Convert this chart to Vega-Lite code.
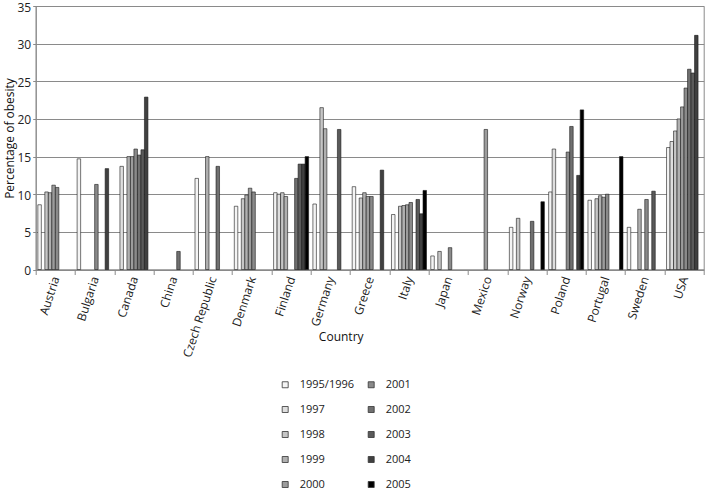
{
  "$schema": "https://vega.github.io/schema/vega-lite/v6.json",
  "width": 668,
  "height": 263.5,
  "autosize": {"type": "none"},
  "padding": {"left": 35.7, "top": 6, "right": 2.3, "bottom": 221.5},
  "config": {
    "font": "Open Sans",
    "view": {"stroke": "#8a8a8a", "strokeWidth": 1},
    "axis": {"labelFont": "Open Sans", "titleFont": "Open Sans", "labelColor": "#222", "titleColor": "#111", "titleFontWeight": "normal", "domainColor": "#8a8a8a", "tickColor": "#8a8a8a"}
  },
  "data": {
    "values": [
      {"country": "Austria", "year": "1995/1996", "value": 8.6},
      {"country": "Austria", "year": "1998", "value": 10.3},
      {"country": "Austria", "year": "1999", "value": 10.2},
      {"country": "Austria", "year": "2000", "value": 11.2},
      {"country": "Austria", "year": "2001", "value": 10.9},
      {"country": "Bulgaria", "year": "1995/1996", "value": 14.7},
      {"country": "Bulgaria", "year": "2001", "value": 11.3},
      {"country": "Bulgaria", "year": "2004", "value": 13.4},
      {"country": "Canada", "year": "1997", "value": 13.7},
      {"country": "Canada", "year": "1999", "value": 15.0},
      {"country": "Canada", "year": "2000", "value": 15.0},
      {"country": "Canada", "year": "2001", "value": 16.0},
      {"country": "Canada", "year": "2002", "value": 15.2},
      {"country": "Canada", "year": "2003", "value": 15.9},
      {"country": "Canada", "year": "2004", "value": 22.9},
      {"country": "China", "year": "2002", "value": 2.4},
      {"country": "Czech Republic", "year": "1995/1996", "value": 12.1},
      {"country": "Czech Republic", "year": "1999", "value": 15.0},
      {"country": "Czech Republic", "year": "2002", "value": 13.7},
      {"country": "Denmark", "year": "1995/1996", "value": 8.4},
      {"country": "Denmark", "year": "1998", "value": 9.4},
      {"country": "Denmark", "year": "1999", "value": 9.9},
      {"country": "Denmark", "year": "2000", "value": 10.8},
      {"country": "Denmark", "year": "2001", "value": 10.3},
      {"country": "Finland", "year": "1995/1996", "value": 10.2},
      {"country": "Finland", "year": "1997", "value": 10.0},
      {"country": "Finland", "year": "1998", "value": 10.2},
      {"country": "Finland", "year": "1999", "value": 9.7},
      {"country": "Finland", "year": "2002", "value": 12.1},
      {"country": "Finland", "year": "2003", "value": 14.0},
      {"country": "Finland", "year": "2004", "value": 14.0},
      {"country": "Finland", "year": "2005", "value": 15.0},
      {"country": "Germany", "year": "1995/1996", "value": 8.7},
      {"country": "Germany", "year": "1998", "value": 21.5},
      {"country": "Germany", "year": "1999", "value": 18.7},
      {"country": "Germany", "year": "2003", "value": 18.6},
      {"country": "Greece", "year": "1995/1996", "value": 11.0},
      {"country": "Greece", "year": "1998", "value": 9.5},
      {"country": "Greece", "year": "1999", "value": 10.2},
      {"country": "Greece", "year": "2000", "value": 9.7},
      {"country": "Greece", "year": "2001", "value": 9.7},
      {"country": "Greece", "year": "2004", "value": 13.2},
      {"country": "Italy", "year": "1995/1996", "value": 7.3},
      {"country": "Italy", "year": "1998", "value": 8.4},
      {"country": "Italy", "year": "1999", "value": 8.5},
      {"country": "Italy", "year": "2000", "value": 8.6},
      {"country": "Italy", "year": "2001", "value": 8.9},
      {"country": "Italy", "year": "2003", "value": 9.3},
      {"country": "Italy", "year": "2004", "value": 7.4},
      {"country": "Italy", "year": "2005", "value": 10.5},
      {"country": "Japan", "year": "1995/1996", "value": 1.8},
      {"country": "Japan", "year": "1998", "value": 2.4},
      {"country": "Japan", "year": "2001", "value": 2.9},
      {"country": "Mexico", "year": "2000", "value": 18.6},
      {"country": "Norway", "year": "1995/1996", "value": 5.6},
      {"country": "Norway", "year": "1998", "value": 6.8},
      {"country": "Norway", "year": "2002", "value": 6.4},
      {"country": "Norway", "year": "2005", "value": 9.0},
      {"country": "Poland", "year": "1995/1996", "value": 10.3},
      {"country": "Poland", "year": "1997", "value": 16.0},
      {"country": "Poland", "year": "2001", "value": 15.6},
      {"country": "Poland", "year": "2002", "value": 19.0},
      {"country": "Poland", "year": "2004", "value": 12.5},
      {"country": "Poland", "year": "2005", "value": 21.2},
      {"country": "Portugal", "year": "1995/1996", "value": 9.2},
      {"country": "Portugal", "year": "1998", "value": 9.4},
      {"country": "Portugal", "year": "1999", "value": 9.8},
      {"country": "Portugal", "year": "2000", "value": 9.6},
      {"country": "Portugal", "year": "2001", "value": 10.0},
      {"country": "Portugal", "year": "2005", "value": 15.0},
      {"country": "Sweden", "year": "1995/1996", "value": 5.6},
      {"country": "Sweden", "year": "1999", "value": 8.0},
      {"country": "Sweden", "year": "2001", "value": 9.3},
      {"country": "Sweden", "year": "2003", "value": 10.4},
      {"country": "USA", "year": "1995/1996", "value": 16.2},
      {"country": "USA", "year": "1997", "value": 17.0},
      {"country": "USA", "year": "1998", "value": 18.4},
      {"country": "USA", "year": "1999", "value": 20.0},
      {"country": "USA", "year": "2000", "value": 21.6},
      {"country": "USA", "year": "2001", "value": 24.1},
      {"country": "USA", "year": "2002", "value": 26.6},
      {"country": "USA", "year": "2003", "value": 26.1},
      {"country": "USA", "year": "2004", "value": 31.1}
    ]
  },
  "mark": {"type": "bar", "stroke": "#1a1a1a", "strokeWidth": 0.6},
  "encoding": {
    "x": {
      "field": "country", "type": "nominal", "sort": null,
      "scale": {"paddingInner": 0, "paddingOuter": 0},
      "axis": {
        "title": "Country", "titleFontSize": 12, "titleX": 305, "titleY": 67, "titleAlign": "center", "titleBaseline": "middle", "titleAnchor": null,
        "labelAngle": -72, "labelFontSize": 12, "labelPadding": 2, "tickBand": "extent", "tickSize": 5
      }
    },
    "xOffset": {
      "field": "year", "type": "nominal",
      "scale": {"domain": ["1995/1996", "1997", "1998", "1999", "2000", "2001", "2002", "2003", "2004", "2005"], "paddingInner": 0, "paddingOuter": 0.61}
    },
    "y": {
      "field": "value", "type": "quantitative",
      "scale": {"domain": [0, 35], "nice": false},
      "axis": {
        "values": [0, 5, 10, 15, 20, 25, 30, 35],
        "title": "Percentage  of obesity", "titleFontSize": 12, "titleX": -26, "titleY": 132, "titleAngle": -90, "titleAlign": "center", "titleBaseline": "middle",
        "labelFontSize": 12, "labelPadding": 2, "tickSize": 3, "labelOffset": 1,
        "grid": true, "gridColor": "#8a8a8a", "gridWidth": 1.2
      }
    },
    "color": {
      "field": "year", "type": "nominal",
      "scale": {
        "domain": ["1995/1996", "1997", "1998", "1999", "2000", "2001", "2002", "2003", "2004", "2005"],
        "range": ["#f4f4f4", "#dedede", "#c6c6c6", "#b0b0b0", "#9c9c9c", "#8a8a8a", "#707070", "#5a5a5a", "#404040", "#000000"]
      },
      "legend": {
        "title": null, "orient": "none", "legendX": 244, "legendY": 373, "columns": 2,
        "symbolType": "square", "symbolSize": 36, "symbolStrokeColor": "#333", "symbolStrokeWidth": 0.8,
        "labelFontSize": 11, "labelColor": "#222", "labelOffset": 9, "rowPadding": 13, "columnPadding": 11, "padding": 0
      }
    }
  }
}
